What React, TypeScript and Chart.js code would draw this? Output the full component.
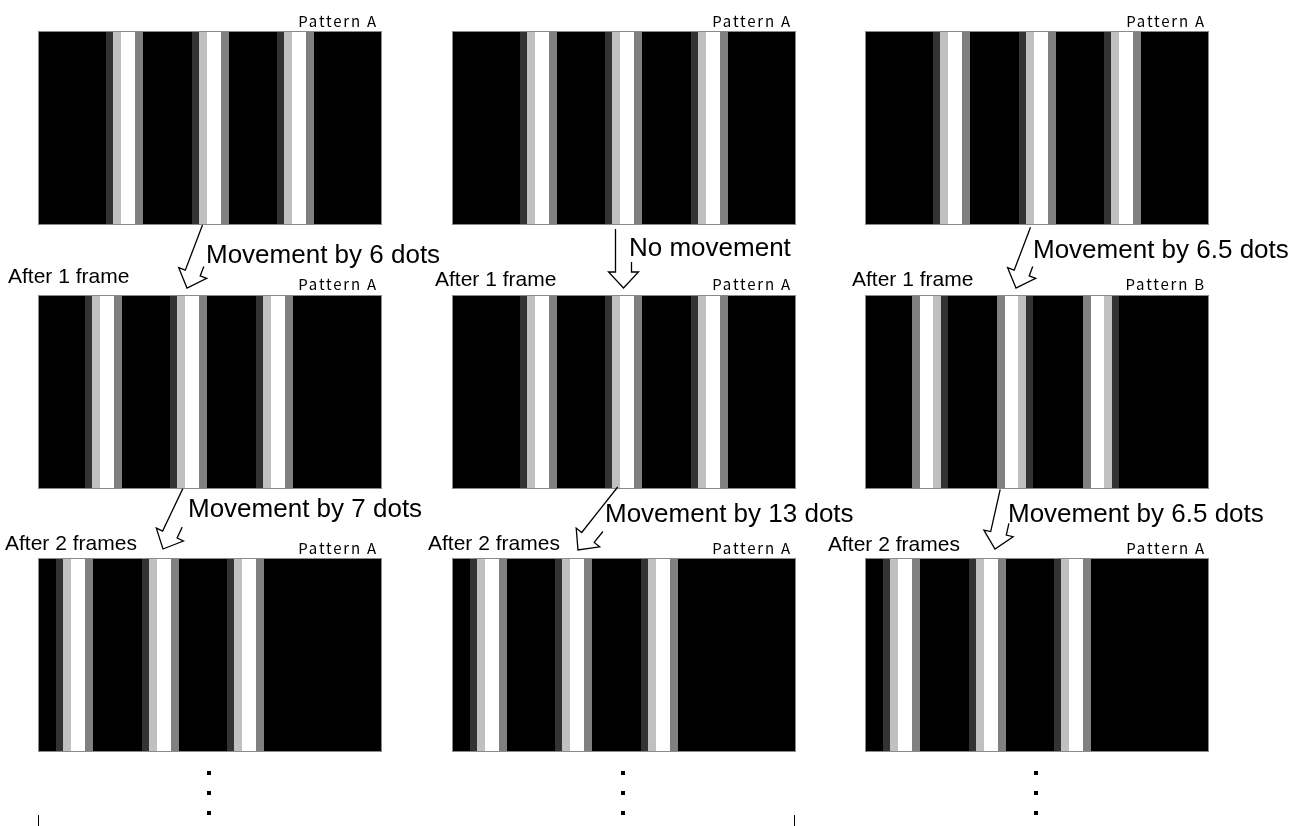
import React, { useEffect, useRef } from "react";
import { Chart, registerables } from "chart.js";

Chart.register(...registerables);

// ---------- data (in panel pixel units) ----------
const frameLabels = ["Initial frame", "After 1 frame", "After 2 frames"];
const panelWidthUnits = 344;

// stripe make-up (widths of the four grey levels of one stripe)
const segmentWidthsA = [7, 8, 14, 8];
const segmentWidthsB = [8, 13, 8, 7];

// start position of each of the three stripes, per column, per frame row
const stripeStartsCol1 = [
  [68, 154, 239],
  [47, 132, 218],
  [18, 104, 189],
];
const stripeStartsCol2 = [
  [68, 153, 239],
  [68, 153, 239],
  [18, 103, 189],
];
const stripeStartsCol3 = [
  [68, 154, 239],
  [47, 132, 218],
  [18, 104, 189],
];
const patternCol1 = ["A", "A", "A"];
const patternCol2 = ["A", "A", "A"];
const patternCol3 = ["A", "B", "A"];

const movementLabelsRow1 = ["Movement by 6 dots", "No movement", "Movement by 6.5 dots"];
const movementLabelsRow2 = ["Movement by 7 dots", "Movement by 13 dots", "Movement by 6.5 dots"];
const afterLabelsRow1 = ["After 1 frame", "After 1 frame", "After 1 frame"];
const afterLabelsRow2 = ["After 2 frames", "After 2 frames", "After 2 frames"];

// ---------- styles / layout ----------
const segmentColorsA = ["#333333", "#c0c0c0", "#ffffff", "#808080"];
const segmentColorsB = ["#808080", "#ffffff", "#c0c0c0", "#333333"];
const panelLefts = [38, 452, 865];
const panelTops = [31, 295, 558];
const panelW = 344;
const panelH = 194;

const borderPlugin = {
  id: "panelBorder",
  afterDatasetsDraw(chart: any) {
    const { ctx, chartArea } = chart;
    ctx.save();
    ctx.strokeStyle = "#8a8a8a";
    ctx.lineWidth = 1;
    ctx.strokeRect(
      chartArea.left + 0.5,
      chartArea.top + 0.5,
      chartArea.right - chartArea.left - 1,
      chartArea.bottom - chartArea.top - 1
    );
    ctx.restore();
  },
};

function Panel(props: { starts: number[]; pattern: string; label: string; left: number; top: number }) {
  const ref = useRef<HTMLCanvasElement | null>(null);
  useEffect(() => {
    if (!ref.current) return;
    const widths = props.pattern === "B" ? segmentWidthsB : segmentWidthsA;
    const colors = props.pattern === "B" ? segmentColorsB : segmentColorsA;
    const datasets: any[] = [];
    props.starts.forEach((s, i) => {
      let pos = s;
      widths.forEach((w, j) => {
        datasets.push({
          label: `stripe ${i + 1} part ${j + 1}`,
          data: [[pos, pos + w]],
          backgroundColor: colors[j],
          borderWidth: 0,
          inflateAmount: 0,
          grouped: false,
          barPercentage: 1,
          categoryPercentage: 1,
        });
        pos += w;
      });
    });
    datasets.push({
      label: "background",
      data: [[0, panelWidthUnits]],
      backgroundColor: "#000000",
      borderWidth: 0,
      inflateAmount: 0,
      grouped: false,
      barPercentage: 1,
      categoryPercentage: 1,
    });
    const chart = new Chart(ref.current, {
      type: "bar",
      data: { labels: [props.label], datasets },
      options: {
        indexAxis: "y",
        responsive: false,
        animation: false,
        devicePixelRatio: 1,
        events: [],
        layout: { padding: 0 },
        scales: {
          x: { type: "linear", min: 0, max: panelWidthUnits, display: false },
          y: { display: false },
        },
        plugins: { legend: { display: false }, tooltip: { enabled: false } },
      } as any,
      plugins: [borderPlugin],
    });
    return () => chart.destroy();
  }, []);
  return (
    <canvas
      ref={ref}
      width={panelW}
      height={panelH}
      style={{ position: "absolute", left: props.left, top: props.top, width: panelW, height: panelH }}
    />
  );
}

type Pt = [number, number];
function arrowPaths(S: Pt, T: Pt, rightLen: number) {
  const w = 8, hw = 15, hl = 16;
  const dx = T[0] - S[0], dy = T[1] - S[1];
  const L = Math.hypot(dx, dy);
  const d: Pt = [dx / L, dy / L];
  const n: Pt = [-d[1], d[0]];
  const B: Pt = [T[0] - d[0] * hl, T[1] - d[1] * hl];
  const p = (base: Pt, k: number, m = 0): string =>
    `${(base[0] + n[0] * k - d[0] * m).toFixed(1)},${(base[1] + n[1] * k - d[1] * m).toFixed(1)}`;
  return `M${p(S, w)} L${p(B, w)} L${p(B, hw)} L${T[0]},${T[1]} L${p(B, -hw)} L${p(B, -w)} L${p(B, -w, rightLen)}`;
}

const arrows: { S: Pt; T: Pt; r: number }[] = [
  { S: [210, 228], T: [187, 288], r: 10 },
  { S: [623.5, 229], T: [623.5, 288], r: 10 },
  { S: [1038, 230], T: [1016, 288], r: 10 },
  { S: [190, 492], T: [163, 549], r: 12 },
  { S: [624, 492], T: [578, 550], r: 14 },
  { S: [1008, 491], T: [995, 549], r: 12 },
];

export default function App() {
  const cols = [
    { starts: stripeStartsCol1, pats: patternCol1 },
    { starts: stripeStartsCol2, pats: patternCol2 },
    { starts: stripeStartsCol3, pats: patternCol3 },
  ];
  const big = { fontFamily: "'Liberation Sans', Arial, sans-serif", fontSize: 26 };
  const mid = { fontFamily: "'Liberation Sans', Arial, sans-serif", fontSize: 21 };
  const small = { fontFamily: "'Noto Sans CJK JP', 'DejaVu Sans', sans-serif", fontSize: 15, letterSpacing: 1.8 };
  const moveRow1Pos: Pt[] = [[206, 263], [629, 256], [1033, 258]];
  const moveRow2Pos: Pt[] = [[188, 517], [605, 522], [1008, 522]];
  const afterRow1Pos: Pt[] = [[8, 283], [435, 286], [852, 286]];
  const afterRow2Pos: Pt[] = [[5, 550], [428, 550], [828, 551]];
  const patternRight = [378, 792, 1206];
  const patternBase = [27, 290, 554];
  const dotX = [209, 623, 1036];
  const dotY = [773, 793, 813];
  return (
    <div style={{ position: "absolute", left: 0, top: 0, width: 1302, height: 826, background: "#fff", overflow: "hidden" }}>
      {cols.map((c, ci) =>
        frameLabels.map((fl, ri) => (
          <Panel
            key={`${ci}-${ri}`}
            starts={c.starts[ri]}
            pattern={c.pats[ri]}
            label={fl}
            left={panelLefts[ci]}
            top={panelTops[ri]}
          />
        ))
      )}
      <svg width={1302} height={826} style={{ position: "absolute", left: 0, top: 0, pointerEvents: "none" }}>
        {arrows.map((a, i) => (
          <path key={i} d={arrowPaths(a.S, a.T, a.r)} fill="none" stroke="#000" strokeWidth={1.3} strokeLinejoin="miter" />
        ))}
        {movementLabelsRow1.map((t, i) => (
          <text key={"m1" + i} x={moveRow1Pos[i][0]} y={moveRow1Pos[i][1]} style={big} fill="#000">{t}</text>
        ))}
        {movementLabelsRow2.map((t, i) => (
          <text key={"m2" + i} x={moveRow2Pos[i][0]} y={moveRow2Pos[i][1]} style={big} fill="#000">{t}</text>
        ))}
        {afterLabelsRow1.map((t, i) => (
          <text key={"a1" + i} x={afterRow1Pos[i][0]} y={afterRow1Pos[i][1]} style={mid} fill="#000">{t}</text>
        ))}
        {afterLabelsRow2.map((t, i) => (
          <text key={"a2" + i} x={afterRow2Pos[i][0]} y={afterRow2Pos[i][1]} style={mid} fill="#000">{t}</text>
        ))}
        {cols.map((c, ci) =>
          c.pats.map((p, ri) => (
            <text
              key={`p${ci}${ri}`}
              x={patternRight[ci]}
              y={patternBase[ri]}
              textAnchor="end"
              style={small}
              fill="#000"
            >{`Pattern ${p}`}</text>
          ))
        )}
        {dotX.map((x) =>
          dotY.map((y) => <rect key={`${x}-${y}`} x={x - 2} y={y - 2} width={4} height={4} fill="#000" />)
        )}
        <line x1={38.5} y1={815} x2={38.5} y2={826} stroke="#000" strokeWidth={1} />
        <line x1={794.5} y1={815} x2={794.5} y2={826} stroke="#000" strokeWidth={1} />
      </svg>
    </div>
  );
}
